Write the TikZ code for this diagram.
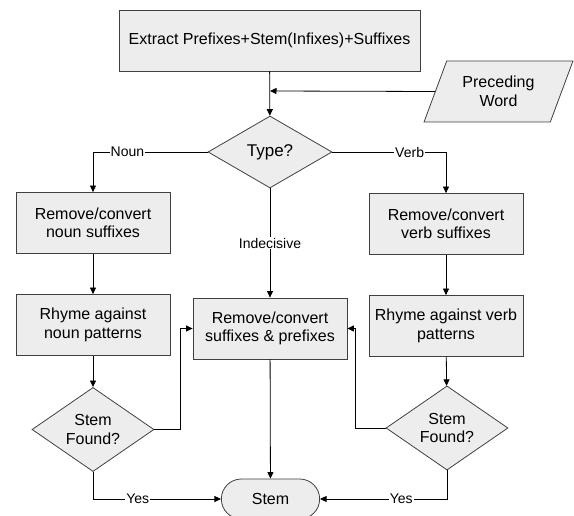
\documentclass[tikz,border=0pt]{standalone}
\usepackage{fontspec}
\setmainfont{Liberation Sans}
\usetikzlibrary{arrows.meta,shapes.geometric,shapes.misc}
\tikzset{
  box/.style={draw=black!75,fill=black!7,line width=0.8pt,minimum width=154pt,minimum height=61pt,
    align=center,inner sep=2pt,font=\fontsize{16}{18.5}\selectfont},
  dec/.style={draw=black!75,fill=black!7,line width=0.8pt,diamond,minimum width=122pt,minimum height=70pt,
    inner sep=0pt,align=center,font=\fontsize{16}{18.5}\selectfont},
  io/.style={draw=black!75,fill=black!7,line width=0.8pt,trapezium,trapezium left angle=65,
    trapezium right angle=115,trapezium stretches=true,minimum width=149pt,minimum height=61pt,
    align=center,font=\fontsize{16}{18.5}\selectfont},
  term/.style={draw=black!75,fill=black!7,line width=0.8pt,rounded rectangle,minimum width=105pt,
    minimum height=40pt,font=\fontsize{16}{18.5}\selectfont},
  lbl/.style={fill=white,inner sep=1pt,font=\fontsize{14}{16}\selectfont}
}

\begin{document}
\begin{tikzpicture}[x=1pt,y=-1pt,>={Triangle[length=6.5pt,width=6pt]},line width=0.8pt]
  \useasboundingbox (0,0) rectangle (574,516);
  \node[box,minimum width=301pt,font=\fontsize{16}{19}\selectfont] (extract) at (269.5,40.5) {Extract Prefixes+Stem(Infixes)+Suffixes};
  \node[io] (prev) at (498.5,91.5) {Preceding\\Word};
  \node[dec,minimum width=124pt,minimum height=72pt,font=\fontsize{17}{20}\selectfont] (type) at (270,152) {Type?};
  \node[box] (nsuf) at (93,223) {Remove/convert\\noun suffixes};
  \node[box] (vsuf) at (446,224) {Remove/convert\\verb suffixes};
  \node[box] (nrhyme) at (93,325) {Rhyme against\\noun patterns};
  \node[box] (mid) at (270,328.5) {Remove/convert\\suffixes \& prefixes};
  \node[box] (vrhyme) at (446,326) {Rhyme against verb\\patterns};
  \node[dec] (nfound) at (93,429.5) {Stem\\Found?};
  \node[dec] (vfound) at (447,428) {Stem\\Found?};
  \node[term] (stem) at (270.5,499) {Stem};
  \coordinate (join) at (270,91);

  \draw[->] (extract) -- (type);
  \draw[->] (prev.west) -- (join);
  \draw[->] (type.west) -| node[lbl,pos=0.35] {Noun} (nsuf);
  \draw[->] (type.east) -| node[lbl,pos=0.34] {Verb} (vsuf);
  \draw[->] (type) -- node[lbl] {Indecisive} (mid);
  \draw[->] (nsuf) -- (nrhyme);
  \draw[->] (vsuf) -- (vrhyme);
  \draw[->] (nrhyme) -- (nfound);
  \draw[->] (vrhyme) -- (vfound);
  \draw[->] (nfound.east) -- ++(26,0) |- (mid.west);
  \draw[->] (vfound.west) -- ++(-30,0) |- (mid.east);
  \draw[->] (mid) -- (stem);
  \draw[->] (nfound.south) |- node[lbl,pos=0.675] {Yes} (stem.west);
  \draw[->] (vfound.south) |- node[lbl,pos=0.68] {Yes} (stem.east);
\end{tikzpicture}
\end{document}
